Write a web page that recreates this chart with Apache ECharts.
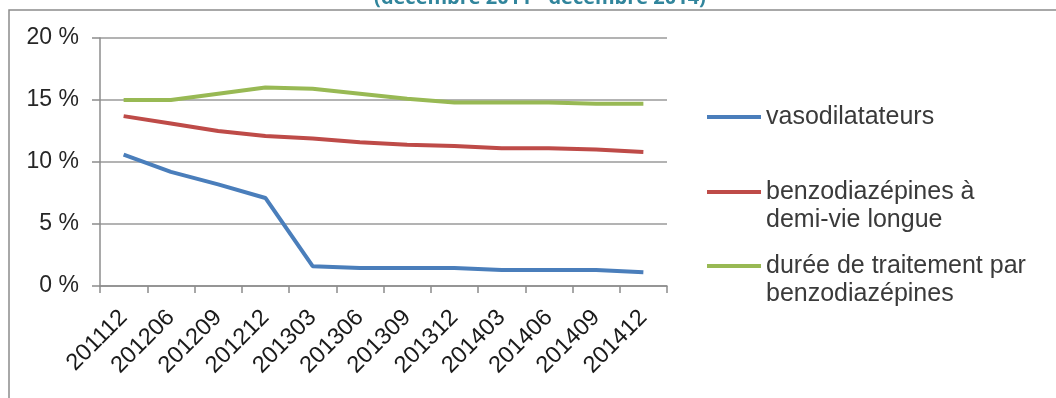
<!DOCTYPE html>
<html>
<head>
<meta charset="utf-8">
<script src="https://cdn.jsdelivr.net/npm/echarts@6/dist/echarts.min.js"></script>
<style>
html,body{margin:0;padding:0;background:#fff;}
#chart{width:1056px;height:398px;}
</style>
</head>
<body>
<div id="chart"></div>
<script>
const months = ['201112','201206','201209','201212','201303','201306','201309','201312','201403','201406','201409','201412'];
const vasodilatateurs = [10.6, 9.2, 8.2, 7.1, 1.6, 1.45, 1.45, 1.45, 1.3, 1.3, 1.3, 1.1];
const benzoDemiVie = [13.7, 13.1, 12.5, 12.1, 11.9, 11.6, 11.4, 11.3, 11.1, 11.1, 11.0, 10.8];
const dureeTraitement = [15.0, 15.0, 15.5, 16.0, 15.9, 15.5, 15.1, 14.8, 14.8, 14.8, 14.7, 14.7];
const yTicks = [0, 5, 10, 15, 20];
const seriesNames = ['vasodilatateurs', 'benzodiazépines à\ndemi-vie longue', 'durée de traitement par\nbenzodiazépines'];
const titleText = '(décembre 2011 - décembre 2014)';

const chart = echarts.init(document.getElementById('chart'), null, {renderer:'canvas'});
const font = 'Liberation Sans, Arial, sans-serif';
const colors = ['#4A7EBB', '#BE4B48', '#98B954'];
const values = [vasodilatateurs, benzoDemiVie, dureeTraitement];
const lh = 28.5;
const iconCenters = [117, 192, 266];

const option = {
  animation: false,
  backgroundColor: '#fff',
  title: {
    text: titleText,
    left: 540,
    textAlign: 'center',
    top: -12,
    padding: 0,
    textStyle: {color: '#31859C', fontSize: 20, fontWeight: 'bold', fontFamily: 'Open Sans, Liberation Sans, sans-serif'}
  },
  graphic: [{
    type: 'rect', silent: true,
    shape: {x: 9, y: 10, width: 1200, height: 600},
    style: {fill: 'none', stroke: '#8c8c8c', lineWidth: 1.5}
  }],
  legend: seriesNames.map((n, i) => {
    const multi = n.indexOf('\n') >= 0;
    return {
      data: [n],
      formatter: multi ? (name => '\n' + name) : (name => name),
      left: 707,
      top: multi ? iconCenters[i] - lh * 1.5 : iconCenters[i] - lh / 2,
      padding: 0,
      itemWidth: 54,
      itemHeight: 4,
      icon: 'rect',
      selectedMode: false,
      textStyle: {color: '#3a3a3a', fontSize: 25, fontFamily: font, lineHeight: lh}
    };
  }),
  grid: {left: 100, right: 389, top: 38, bottom: 112, containLabel: false},
  xAxis: {
    type: 'category',
    data: months,
    boundaryGap: true,
    axisLine: {lineStyle: {color: '#8c8c8c', width: 1.5}},
    axisTick: {show: true, length: 7, lineStyle: {color: '#8c8c8c', width: 1.5}},
    axisLabel: {rotate: 45, color: '#1a1a1a', fontSize: 23.5, fontFamily: font, margin: 28, interval: 0},
    splitLine: {show: false}
  },
  yAxis: {
    type: 'value',
    min: yTicks[0], max: yTicks[yTicks.length - 1], interval: 5,
    axisLine: {show: true, lineStyle: {color: '#8c8c8c', width: 1.5}},
    axisTick: {show: true, length: 8, lineStyle: {color: '#8c8c8c', width: 1.5}},
    axisLabel: {formatter: '{value}\u00a0%', color: '#262626', fontSize: 23, fontFamily: font, margin: 21},
    splitLine: {lineStyle: {color: '#9a9a9a', width: 1.5}}
  },
  series: seriesNames.map((n, i) => ({
    name: n, type: 'line', data: values[i],
    showSymbol: false, symbol: 'none',
    lineStyle: {color: colors[i], width: 4},
    itemStyle: {color: colors[i]},
    z: 3 - i
  }))
};
chart.setOption(option);
</script>
</body>
</html>
